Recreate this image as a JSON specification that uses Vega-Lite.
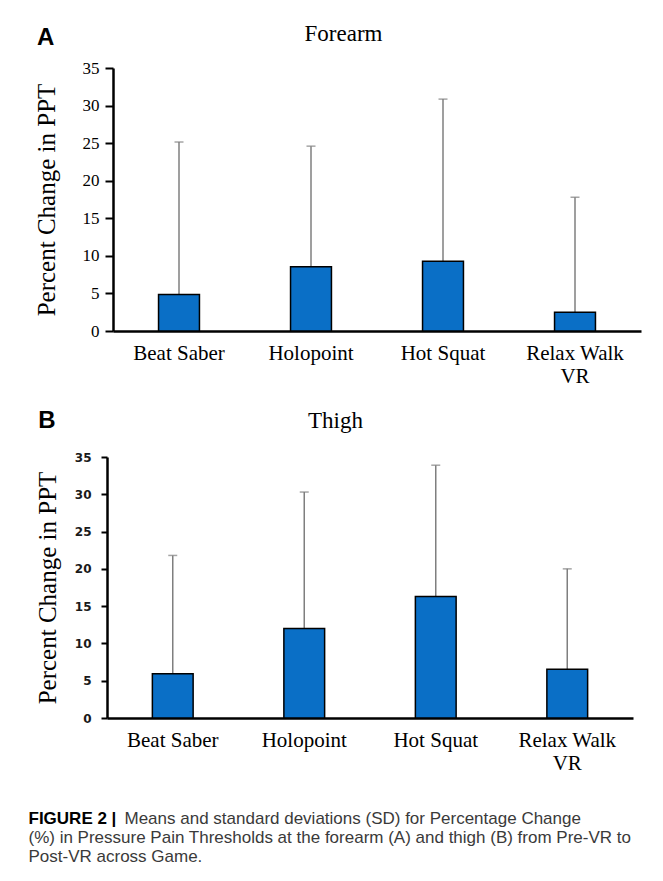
{
  "$schema": "https://vega.github.io/schema/vega-lite/v6.json",
  "background": "white",
  "padding": {"left": 28, "top": 22, "right": 5, "bottom": 5},
  "datasets": {
    "forearm": [
      {"game": "Beat Saber", "mean": 4.85, "upper": 25.15},
      {"game": "Holopoint", "mean": 8.55, "upper": 24.6},
      {"game": "Hot Squat", "mean": 9.28, "upper": 30.86},
      {"game": "Relax Walk VR", "mean": 2.5, "upper": 17.8}
    ],
    "thigh": [
      {"game": "Beat Saber", "mean": 5.95, "upper": 21.8},
      {"game": "Holopoint", "mean": 12.0, "upper": 30.3},
      {"game": "Hot Squat", "mean": 16.3, "upper": 33.9},
      {"game": "Relax Walk VR", "mean": 6.53, "upper": 20.0}
    ],
    "caption": [
      {"line": 1, "kind": "bold", "t": "FIGURE 2 |"},
      {"line": 1, "kind": "lead", "t": "Means and standard deviations (SD) for Percentage Change"},
      {"line": 2, "kind": "rest", "t": "(%) in Pressure Pain Thresholds at the forearm (A) and thigh (B) from Pre-VR to"},
      {"line": 3, "kind": "rest", "t": "Post-VR across Game."}
    ]
  },
  "concat": [
    {
      "width": 528,
      "height": 263,
      "data": {"name": "forearm"},
      "title": {"text": "A", "anchor": "start", "frame": "bounds", "font": "Liberation Sans", "fontSize": 24, "fontWeight": "bold", "color": "black", "dy": 32, "dx": 3},
      "encoding": {
        "x": {"field": "game", "type": "nominal", "sort": null,
          "scale": {"paddingInner": 0.69, "paddingOuter": 0.345},
          "axis": {"orient": "bottom", "title": "Forearm", "titleFont": "Liberation Serif", "titleFontSize": 23, "titleFontWeight": "normal", "titleColor": "black", "titleX": 230, "titleY": -291, "titleBaseline": "alphabetic", "titleAlign": "center",
            "labelAngle": 0, "labelFont": "Liberation Serif", "labelFontSize": 21, "labelFontWeight": "normal", "labelColor": "black", "labelPadding": 11, "labelLineHeight": 23, "labelBaseline": "top",
            "labelExpr": "datum.label == 'Relax Walk VR' ? ['Relax Walk', 'VR'] : datum.label",
            "ticks": false, "domainColor": "black", "domainWidth": 2.5}},
        "y": {"field": "mean", "type": "quantitative", "scale": {"domain": [0, 35]},
          "axis": {"orient": "left", "title": "Percent Change in PPT", "titleFont": "Liberation Serif", "titleFontSize": 25, "titleFontWeight": "normal", "titleColor": "black", "titlePadding": 23,
            "values": [0, 5, 10, 15, 20, 25, 30, 35], "labelFont": "Liberation Serif", "labelFontSize": 17, "labelFontWeight": "normal", "labelColor": "black", "labelPadding": 6,
            "tickSize": 8, "tickWidth": 2, "tickColor": "black", "domainColor": "black", "domainWidth": 2.5, "grid": false}}
      },
      "layer": [
        {"mark": {"type": "rule", "color": "#7f7f7f", "strokeWidth": 1.5}, "encoding": {"y2": {"field": "upper"}}},
        {"mark": {"type": "tick", "color": "#7f7f7f", "thickness": 1.5, "size": 9}, "encoding": {"y": {"field": "upper", "type": "quantitative", "title": "Percent Change in PPT"}}},
        {"mark": {"type": "bar", "fill": "#0a6fc6", "stroke": "black", "strokeWidth": 1.5}}
      ]
    },
    {
      "width": 520,
      "height": 261,
      "data": {"name": "thigh"},
      "title": {"text": "B", "anchor": "start", "frame": "bounds", "font": "Liberation Sans", "fontSize": 24, "fontWeight": "bold", "color": "black", "dy": 28, "dx": 3},
      "encoding": {
        "x": {"field": "game", "type": "nominal", "sort": null,
          "scale": {"paddingInner": 0.69, "paddingOuter": 0.345, "range": [-6, 520]},
          "axis": {"orient": "bottom", "title": "Thigh", "titleFont": "Liberation Serif", "titleFontSize": 23, "titleFontWeight": "normal", "titleColor": "black", "titleX": 222, "titleY": -291, "titleBaseline": "alphabetic", "titleAlign": "center",
            "labelAngle": 0, "labelFont": "Liberation Serif", "labelFontSize": 21, "labelFontWeight": "normal", "labelColor": "black", "labelPadding": 11, "labelLineHeight": 23, "labelBaseline": "top",
            "labelExpr": "datum.label == 'Relax Walk VR' ? ['Relax Walk', 'VR'] : datum.label",
            "ticks": false, "domainColor": "black", "domainWidth": 2.5}},
        "y": {"field": "mean", "type": "quantitative", "scale": {"domain": [0, 35]},
          "axis": {"orient": "left", "offset": 6, "title": "Percent Change in PPT", "titleFont": "Liberation Serif", "titleFontSize": 25, "titleFontWeight": "normal", "titleColor": "black", "titlePadding": 14,
            "values": [0, 5, 10, 15, 20, 25, 30, 35], "labelFont": "DejaVu Sans", "labelFontSize": 12, "labelFontWeight": "bold", "labelColor": "#1a1a1a", "labelPadding": 10,
            "tickSize": 6, "tickWidth": 2, "tickColor": "black", "domainColor": "black", "domainWidth": 2.5, "grid": false}}
      },
      "layer": [
        {"mark": {"type": "rule", "color": "#7f7f7f", "strokeWidth": 1.5}, "encoding": {"y2": {"field": "upper"}}},
        {"mark": {"type": "tick", "color": "#7f7f7f", "thickness": 1.5, "size": 9}, "encoding": {"y": {"field": "upper", "type": "quantitative", "title": "Percent Change in PPT"}}},
        {"mark": {"type": "bar", "fill": "#0a6fc6", "stroke": "black", "strokeWidth": 1.5}}
      ]
    },
    {
      "width": 1,
      "height": 38,
      "data": {"name": "caption"},
      "encoding": {
        "y": {"field": "line", "type": "ordinal", "scale": {"type": "point", "padding": 0}, "axis": null},
        "text": {"field": "t"}
      },
      "layer": [
        {"transform": [{"filter": "datum.kind == 'bold'"}], "mark": {"type": "text", "align": "left", "baseline": "alphabetic", "font": "Liberation Sans", "fontWeight": "bold", "fontSize": 17, "color": "black", "dx": -85, "dy": 28}},
        {"transform": [{"filter": "datum.kind == 'lead'"}], "mark": {"type": "text", "align": "left", "baseline": "alphabetic", "font": "Liberation Sans", "fontSize": 17, "color": "#3a3a3a", "dx": 11, "dy": 28}},
        {"transform": [{"filter": "datum.kind == 'rest'"}], "mark": {"type": "text", "align": "left", "baseline": "alphabetic", "font": "Liberation Sans", "fontSize": 17, "color": "#3a3a3a", "dx": -85, "dy": 28}}
      ]
    }
  ],
  "columns": 1,
  "spacing": 23,
  "config": {"view": {"stroke": null}}
}
